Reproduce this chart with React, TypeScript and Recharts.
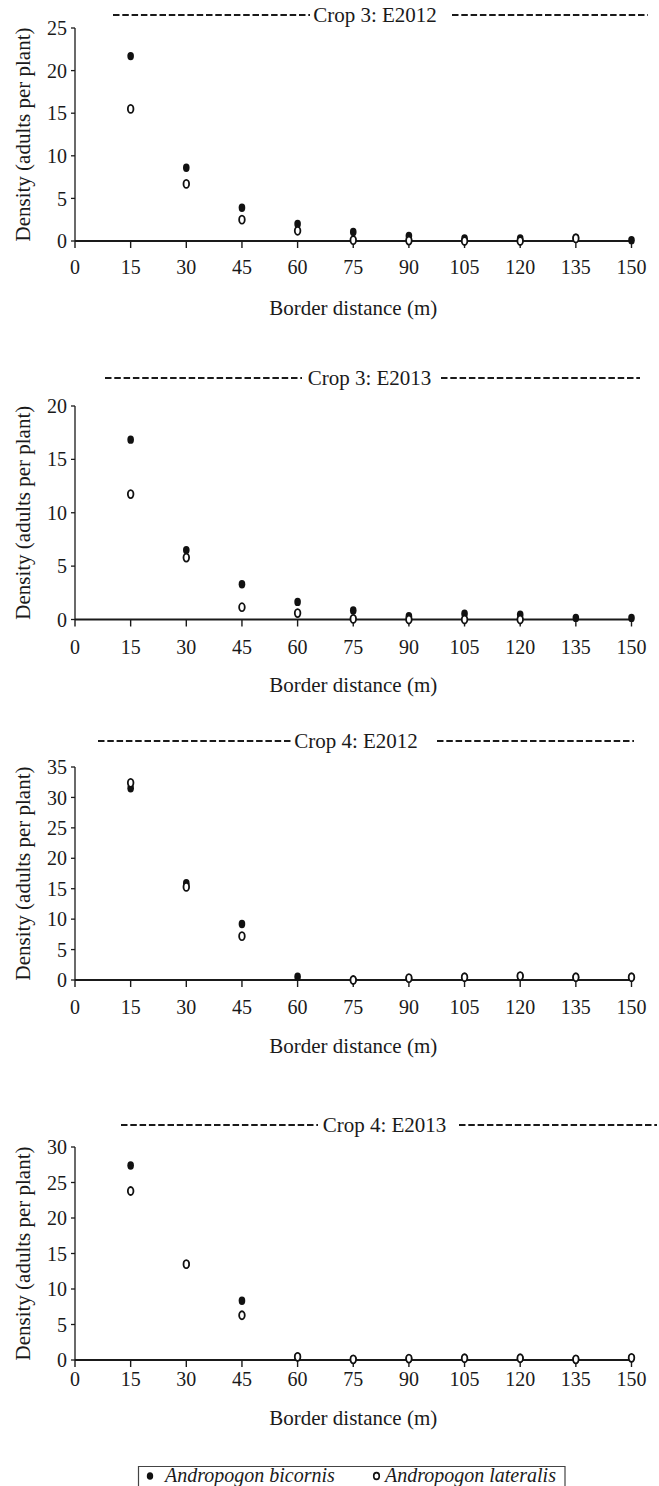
import React from "react";
import { ScatterChart, Scatter, XAxis, YAxis } from "recharts";

// border distance (m) of each sampling point
const distances = [15, 30, 45, 60, 75, 90, 105, 120, 135, 150];
const xTicks = [0, 15, 30, 45, 60, 75, 90, 105, 120, 135, 150];

// density (adults per plant); null = no visible mark
const crop3E2012Bicornis = [21.7, 8.6, 3.9, 2.0, 1.05, 0.6, 0.3, 0.3, 0.4, 0.1];
const crop3E2012Lateralis = [15.5, 6.7, 2.5, 1.2, 0.1, 0.05, 0, 0, 0.3, null];
const crop3E2013Bicornis = [16.85, 6.5, 3.3, 1.65, 0.85, 0.3, 0.55, 0.45, 0.15, 0.15];
const crop3E2013Lateralis = [11.75, 5.8, 1.15, 0.6, 0.05, 0, 0, 0, null, null];
const crop4E2012Bicornis = [31.5, 15.9, 9.2, 0.55, 0, 0.3, 0.45, 0.65, 0.45, 0.45];
const crop4E2012Lateralis = [32.4, 15.3, 7.2, null, 0, 0.3, 0.45, 0.65, 0.45, 0.45];
const crop4E2013Bicornis = [27.4, 13.5, 8.35, 0.45, 0.1, 0.2, 0.25, 0.25, 0.1, 0.3];
const crop4E2013Lateralis = [23.8, 13.5, 6.3, 0.45, 0.1, 0.2, 0.25, 0.25, 0.1, 0.3];

const ticks25 = [0, 5, 10, 15, 20, 25];
const ticks20 = [0, 5, 10, 15, 20];
const ticks35 = [0, 5, 10, 15, 20, 25, 30, 35];
const ticks30 = [0, 5, 10, 15, 20, 25, 30];

const SERIF = "'Liberation Serif', 'Times New Roman', serif";
const INK = "#1a1a1a";

const toPoints = (vals: (number | null)[]) =>
  distances.flatMap((d, i) => (vals[i] == null ? [] : [{ distance: d, density: vals[i] as number }]));

const panels = [
  {
    title: "Crop 3: E2012",
    bicornis: crop3E2012Bicornis,
    lateralis: crop3E2012Lateralis,
    yTicks: ticks25,
    plotTop: 28,
    plotH: 213,
    tickMargin: 12,
    xLabelDy: 73.5,
    dash: { y: 15, l1: 113, l2: 310, cx: 375, r1: 452, r2: 648 },
  },
  {
    title: "Crop 3: E2013",
    bicornis: crop3E2013Bicornis,
    lateralis: crop3E2013Lateralis,
    yTicks: ticks20,
    plotTop: 405.5,
    plotH: 213.5,
    tickMargin: 13,
    xLabelDy: 72.5,
    dash: { y: 378, l1: 105, l2: 302, cx: 369.5, r1: 441, r2: 640 },
  },
  {
    title: "Crop 4: E2012",
    bicornis: crop4E2012Bicornis,
    lateralis: crop4E2012Lateralis,
    yTicks: ticks35,
    plotTop: 767,
    plotH: 213,
    tickMargin: 13,
    xLabelDy: 72.5,
    dash: { y: 741, l1: 98, l2: 293, cx: 356, r1: 437, r2: 634 },
  },
  {
    title: "Crop 4: E2013",
    bicornis: crop4E2013Bicornis,
    lateralis: crop4E2013Lateralis,
    yTicks: ticks30,
    plotTop: 1147,
    plotH: 213,
    tickMargin: 5,
    xLabelDy: 64.5,
    dash: { y: 1125, l1: 121, l2: 318, cx: 384.5, r1: 459, r2: 657 },
  },
];

const FilledDot = (p: any) => <ellipse cx={p.cx} cy={p.cy} rx={3.3} ry={4.2} fill="#111" />;
const OpenDot = (p: any) => (
  <ellipse cx={p.cx} cy={p.cy} rx={2.8} ry={4} fill="#fff" stroke="#111" strokeWidth={1.8} />
);

const TOP_PAD = 10;
const AXIS_H = 80;
const PLOT_LEFT = 75;
const RIGHT = 27.5;

function PanelTitle({ text, dash }: { text: string; dash: any }) {
  return (
    <svg
      width={659}
      height={30}
      style={{ position: "absolute", left: 0, top: dash.y - 15, overflow: "visible" }}
    >
      <line x1={dash.l1} x2={dash.l2} y1={15} y2={15} stroke={INK} strokeWidth={2} strokeDasharray="6.5 2.8" />
      <text x={dash.cx} y={22} textAnchor="middle" fontFamily={SERIF} fontSize={21} fill={INK}>
        {text}
      </text>
      <line x1={dash.r1} x2={dash.r2} y1={15} y2={15} stroke={INK} strokeWidth={2} strokeDasharray="6.5 2.8" />
    </svg>
  );
}

function Panel({ p }: { p: (typeof panels)[number] }) {
  const height = TOP_PAD + p.plotH + AXIS_H;
  const plotW = 659 - PLOT_LEFT - RIGHT;
  const yTitle = () => {
    const cx = 23;
    const cy = TOP_PAD + p.plotH / 2;
    return (
      <text
        x={cx}
        y={cy}
        transform={`rotate(-90 ${cx} ${cy})`}
        textAnchor="middle"
        dominantBaseline="central"
        fontFamily={SERIF}
        fontSize={21}
        fill={INK}
      >
        Density (adults per plant)
      </text>
    );
  };
  const xTitle = () => (
    <text
      x={PLOT_LEFT + plotW / 2}
      y={TOP_PAD + p.plotH + p.xLabelDy}
      textAnchor="middle"
      fontFamily={SERIF}
      fontSize={21}
      fill={INK}
    >
      Border distance (m)
    </text>
  );
  const yMax = p.yTicks[p.yTicks.length - 1];
  return (
    <>
      <PanelTitle text={p.title} dash={p.dash} />
      <div style={{ position: "absolute", left: 0, top: p.plotTop - TOP_PAD }}>
        <ScatterChart width={659} height={height} margin={{ top: TOP_PAD, right: RIGHT, bottom: 0, left: 0 }}>
          <XAxis
            type="number"
            dataKey="distance"
            domain={[0, 150]}
            ticks={xTicks}
            interval={0}
            height={AXIS_H}
            tickSize={7}
            tickMargin={p.tickMargin}
            axisLine={{ stroke: INK, strokeWidth: 2 }}
            tickLine={{ stroke: INK, strokeWidth: 1.4 }}
            tick={{ fill: INK, fontSize: 20, fontFamily: SERIF }}
            label={xTitle}
          />
          <YAxis
            type="number"
            dataKey="density"
            domain={[0, yMax]}
            ticks={p.yTicks}
            interval={0}
            width={PLOT_LEFT}
            tickSize={4}
            tickMargin={4}
            axisLine={{ stroke: INK, strokeWidth: 1.3 }}
            tickLine={{ stroke: INK, strokeWidth: 1.3 }}
            tick={{ fill: INK, fontSize: 20, fontFamily: SERIF }}
            label={yTitle}
          />
          <Scatter
            name="Andropogon bicornis"
            data={toPoints(p.bicornis)}
            shape={FilledDot}
            isAnimationActive={false}
          />
          <Scatter
            name="Andropogon lateralis"
            data={toPoints(p.lateralis)}
            shape={OpenDot}
            isAnimationActive={false}
          />
        </ScatterChart>
      </div>
    </>
  );
}

function FigureLegend() {
  return (
    <svg width={440} height={22} style={{ position: "absolute", left: 137, top: 1465 }}>
      <polyline points="1.5,22 1.5,1.5 428,1.5 428,22" fill="none" stroke="#444" strokeWidth={1.2} />
      <ellipse cx={13} cy={11} rx={3.2} ry={3.8} fill="#111" />
      <text x={28} y={16.5} fontFamily={SERIF} fontStyle="italic" fontSize={20} fill={INK}>
        Andropogon bicornis
      </text>
      <ellipse cx={239.5} cy={11} rx={2.8} ry={3.4} fill="#fff" stroke="#111" strokeWidth={1.6} />
      <text x={248} y={16.5} fontFamily={SERIF} fontStyle="italic" fontSize={20} fill={INK}>
        Andropogon lateralis
      </text>
    </svg>
  );
}

export default function App() {
  return (
    <div
      style={{
        position: "absolute",
        left: 0,
        top: 0,
        width: 659,
        height: 1486,
        overflow: "hidden",
        background: "#fff",
      }}
    >
      {panels.map((p) => (
        <Panel key={p.title} p={p} />
      ))}
      <FigureLegend />
    </div>
  );
}
